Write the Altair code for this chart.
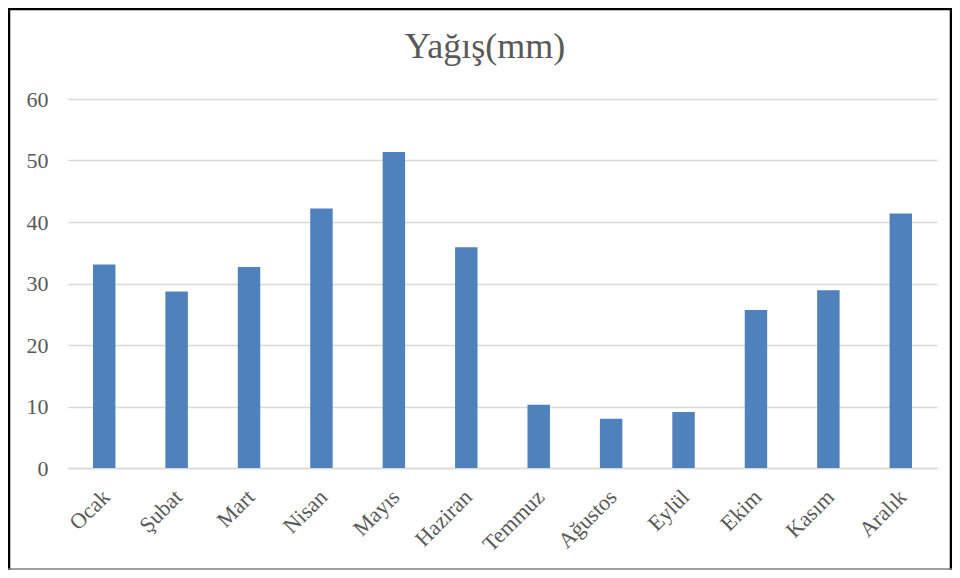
import altair as alt
import pandas as pd

months = ["Ocak", "Şubat", "Mart", "Nisan", "Mayıs", "Haziran",
          "Temmuz", "Ağustos", "Eylül", "Ekim", "Kasım", "Aralık"]
rain = [33.1, 28.7, 32.7, 42.2, 51.4, 35.9, 10.3, 8.0, 9.1, 25.7, 28.9, 41.4]
y_ticks = [0, 10, 20, 30, 40, 50, 60]
title_text = ["Yağış(mm)"]

df = pd.DataFrame({"month": months, "rain": rain})

W, H = 869, 369
PL, PT, PR, PB = 60, 91, 15, 102

FONT = "Liberation Serif"
TXT = "#595959"
GRID = "#d9d9d9"

bars = alt.Chart(df).mark_bar(color="#4f81bd").encode(
    x=alt.X("month:N", sort=months, title=None,
            scale=alt.Scale(paddingInner=0.69, paddingOuter=0.345),
            axis=alt.Axis(labelAngle=-45, labelAlign="right", labelBaseline="middle",
                          labelPadding=25, labelOffset=2, ticks=False,
                          domainColor=GRID, domainWidth=1.5, grid=False,
                          labelFont=FONT, labelFontSize=22, labelColor=TXT)),
    y=alt.Y("rain:Q", title=None,
            scale=alt.Scale(domain=[0, 60], nice=False),
            axis=alt.Axis(values=y_ticks, ticks=False, domain=False,
                          gridColor=GRID, gridWidth=1.5, labelPadding=20,
                          labelFont=FONT, labelFontSize=22, labelColor=TXT)),
)

title = alt.Chart(pd.DataFrame({"t": title_text})).mark_text(
    font=FONT, fontSize=36, color=TXT, align="center", baseline="alphabetic"
).encode(text="t:N", x=alt.value(417), y=alt.value(-41))

frame = pd.DataFrame({"d": [0]})
left_rule = alt.Chart(frame).mark_rule(color="black", strokeWidth=2.5).encode(
    x=alt.value(-PL + 1), x2=alt.value(-PL + 1), y=alt.value(-PT), y2=alt.value(H + PB)
)
top_rule = alt.Chart(frame).mark_rule(color="black", strokeWidth=2.5).encode(
    x=alt.value(-PL), x2=alt.value(W + PR), y=alt.value(-PT + 1), y2=alt.value(-PT + 1)
)
right_rule = alt.Chart(frame).mark_rule(color="black", strokeWidth=2.5).encode(
    x=alt.value(W + PR - 1), x2=alt.value(W + PR - 1), y=alt.value(-PT), y2=alt.value(H + PB)
)
bottom_rule = alt.Chart(frame).mark_rule(color="#808080", strokeWidth=1.5).encode(
    x=alt.value(-PL), x2=alt.value(W + PR), y=alt.value(H + PB - 1), y2=alt.value(H + PB - 1)
)

chart = alt.layer(bars, title, left_rule, top_rule, right_rule, bottom_rule).properties(
    width=W, height=H,
    background="white",
    autosize=alt.AutoSizeParams(type="none"),
    padding={"left": PL, "top": PT, "right": PR, "bottom": PB},
).configure_view(stroke=None)

chart.save("out.html", embed_options={"renderer": "svg", "actions": False})
